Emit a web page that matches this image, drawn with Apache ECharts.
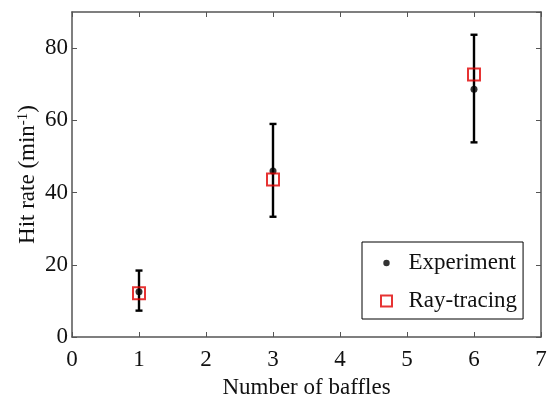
<!DOCTYPE html>
<html><head><meta charset="utf-8">
<script src="https://cdn.jsdelivr.net/npm/echarts@6/dist/echarts.min.js"></script>
<style>html,body{margin:0;padding:0;background:#fff}#c{width:547px;height:396px}</style>
</head><body><div id="c"></div>
<script>
var baffles = [1, 3, 6];
var experiment = [12.5, 46.0, 68.6];
var errLow = [7.3, 33.3, 53.9];
var errHigh = [18.4, 59.0, 83.7];
var rayTracing = [12.1, 43.6, 72.7];
var xTicks = [0, 1, 2, 3, 4, 5, 6, 7];
var yTicks = [0, 20, 40, 60, 80];

var FONT = 'Liberation Serif';
var AX = '#555';
var chart = echarts.init(document.getElementById('c'));
function axisBase(pos, showLabel) {
  return {
    type: 'value', position: pos,
    axisLine: {show: true, onZero: false, lineStyle: {color: AX, width: 1.5}},
    axisTick: {show: true, inside: true, length: 5, lineStyle: {color: AX}},
    splitLine: {show: false},
    axisLabel: {show: showLabel, fontFamily: FONT, fontSize: 23, color: '#111'}
  };
}
var x1 = axisBase('bottom', true);
Object.assign(x1, {min: xTicks[0], max: xTicks[xTicks.length - 1], interval: 1, name: 'Number of baffles',
  nameLocation: 'middle', nameGap: 39, nameMoveOverlap: false,
  nameTextStyle: {fontFamily: FONT, fontSize: 23, color: '#111'}});
x1.axisLabel.margin = 11;
var x2 = axisBase('top', false);
Object.assign(x2, {min: 0, max: 7, interval: 1});
var y1 = axisBase('left', true);
Object.assign(y1, {min: yTicks[0], max: 90, interval: 20, name: 'Hit rate (min{sup|-1})',
  nameLocation: 'middle', nameGap: 33, nameMoveOverlap: false,
  nameTextStyle: {fontFamily: FONT, fontSize: 23, color: '#111',
    rich: {sup: {fontFamily: FONT, fontSize: 15, color: '#111', verticalAlign: 'top', padding: [0, 0, 8, 0]}}}});
y1.axisLabel.margin = 4;
y1.axisLabel.showMaxLabel = false;
var y2 = axisBase('right', false);
Object.assign(y2, {min: 0, max: 90, interval: 20});

var errData = baffles.map(function (b, i) { return [b, errLow[i], errHigh[i]]; });

chart.setOption({
  animation: false,
  grid: {left: 72, top: 12, right: 6, bottom: 59, containLabel: false, outerBoundsMode: 'none'},
  xAxis: [x1, x2],
  yAxis: [y1, y2],
  legend: {
    left: 362, top: 242, orient: 'vertical',
    padding: [8, 6, 5, 18], itemGap: 12, itemWidth: 34, itemHeight: 11,
    borderColor: '#000', borderWidth: 1, backgroundColor: '#fff',
    textStyle: {fontFamily: FONT, fontSize: 23, color: '#111', lineHeight: 26},
    data: [
      {name: 'Experiment', icon: 'path://M0,0M12,12M6,2.5A3.5,3.5,0,1,1,5.99,2.5Z'},
      {name: 'Ray-tracing', icon: 'path://M0,0L10,0L10,10L0,10Z'}
    ]
  },
  series: [
    {
      type: 'custom', name: 'err', data: errData, z: 1,
      renderItem: function (params, api) {
        var x = api.value(0);
        var lo = api.coord([x, api.value(1)]);
        var hi = api.coord([x, api.value(2)]);
        var c = 3.5;
        var st = {stroke: '#000', lineWidth: 2.4};
        return {type: 'group', children: [
          {type: 'line', shape: {x1: lo[0], y1: lo[1], x2: hi[0], y2: hi[1]}, style: st},
          {type: 'line', shape: {x1: lo[0] - c, y1: lo[1], x2: lo[0] + c, y2: lo[1]}, style: st},
          {type: 'line', shape: {x1: hi[0] - c, y1: hi[1], x2: hi[0] + c, y2: hi[1]}, style: st}
        ]};
      }
    },
    {
      type: 'scatter', name: 'Experiment', z: 2, symbol: 'circle', symbolSize: 7,
      itemStyle: {color: '#000'},
      data: baffles.map(function (b, i) { return [b, experiment[i]]; })
    },
    {
      type: 'scatter', name: 'Ray-tracing', z: 3, symbol: 'rect', symbolSize: 12,
      itemStyle: {color: 'rgba(0,0,0,0)', borderColor: '#e00000', borderWidth: 2},
      data: baffles.map(function (b, i) { return [b, rayTracing[i]]; })
    }
  ]
});
</script></body></html>
